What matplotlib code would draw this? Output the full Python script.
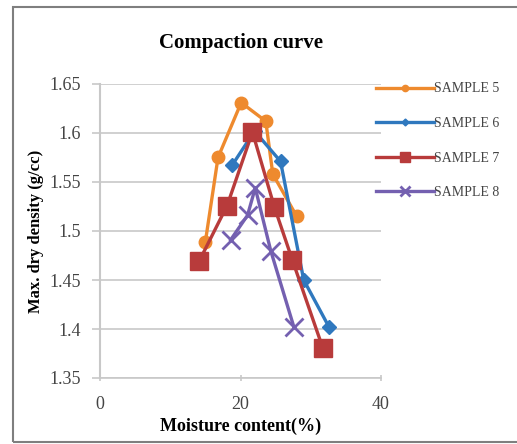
import matplotlib.pyplot as plt
from matplotlib.patches import Rectangle

# moisture content (%) and max dry density (g/cc) per sample
s5_x = [15.0, 16.8, 20.1, 23.6, 24.6, 28.0]
s5_y = [1.489, 1.575, 1.631, 1.612, 1.558, 1.515]
s6_x = [18.8, 22.0, 25.7, 29.0, 32.6]
s6_y = [1.567, 1.602, 1.571, 1.450, 1.402]
s7_x = [14.1, 18.1, 21.7, 24.8, 27.4, 31.7]
s7_y = [1.469, 1.526, 1.601, 1.525, 1.470, 1.381]
s8_x = [18.6, 21.0, 22.1, 24.3, 27.6]
s8_y = [1.491, 1.516, 1.544, 1.480, 1.402]

x_ticks = [0, 20, 40]
y_ticks = [1.35, 1.4, 1.45, 1.5, 1.55, 1.6, 1.65]
y_labels = ['1.35', '1.4', '1.45', '1.5', '1.55', '1.6', '1.65']

plt.rcParams['font.family'] = ['Liberation Serif', 'DejaVu Serif']

fig = plt.figure(figsize=(5.17, 4.44), dpi=100)
ax = fig.add_axes([100 / 517, 1 - 378 / 444, 281 / 517, 294 / 444])

ax.plot(s5_x, s5_y, color='#EE8A2E', lw=2.4, marker='o', ms=9, label='SAMPLE 5', zorder=3)
ax.plot(s6_x, s6_y, color='#2F78BE', lw=2.4, marker='D', ms=7, label='SAMPLE 6', zorder=4)
ax.plot(s7_x, s7_y, color='#B83B3B', lw=2.4, marker='s', ms=13, label='SAMPLE 7', zorder=5)
ax.plot(s8_x, s8_y, color='#7460B0', lw=2.4, marker='x', ms=13, mew=2, label='SAMPLE 8', zorder=6)

ax.set_xlim(0, 40)
ax.set_ylim(1.35, 1.65)
ax.set_xticks(x_ticks)
ax.set_yticks(y_ticks)
ax.set_yticklabels(y_labels)
ax.grid(True, axis='y', color='#C8C8C8', lw=1.2)
ax.set_axisbelow(True)
for side in ['top', 'right']:
    ax.spines[side].set_visible(False)
ax.spines['left'].set_color('#C8C8C8')
ax.spines['bottom'].set_color('#C8C8C8')
ax.spines['left'].set_linewidth(1.5)
ax.spines['bottom'].set_linewidth(1.2)
ax.tick_params(axis='y', colors='#C8C8C8', labelcolor='#444444', length=6, width=1.2, labelsize=13,
               pad=8)
ax.tick_params(axis='x', colors='#C8C8C8', labelcolor='#444444', length=4, width=1.2, labelsize=13,
               direction='inout', pad=11)

ax.set_xlabel('Moisture content(%)', fontsize=13, fontweight='bold', labelpad=3)
ax.set_ylabel('Max. dry density (g/cc)', fontsize=12, fontweight='bold', labelpad=4)
fig.text(241 / 517, 1 - 43 / 444, 'Compaction curve', fontsize=15, fontweight='bold',
         ha='center', va='center')

leg = fig.legend(loc='upper left', bbox_to_anchor=(363 / 517, 1 - 70 / 444), frameon=False,
                 fontsize=10, handlelength=4.2, handletextpad=0.0, labelspacing=1.55,
                 markerscale=0.5)
for t in leg.get_texts():
    t.set_color('#444444')

fig.patches.append(Rectangle((13 / 517, 2 / 444), 510 / 517, 435 / 444, transform=fig.transFigure,
                             fill=False, edgecolor='#7F7F7F', lw=1.5))

plt.savefig('out.png', dpi=100)
